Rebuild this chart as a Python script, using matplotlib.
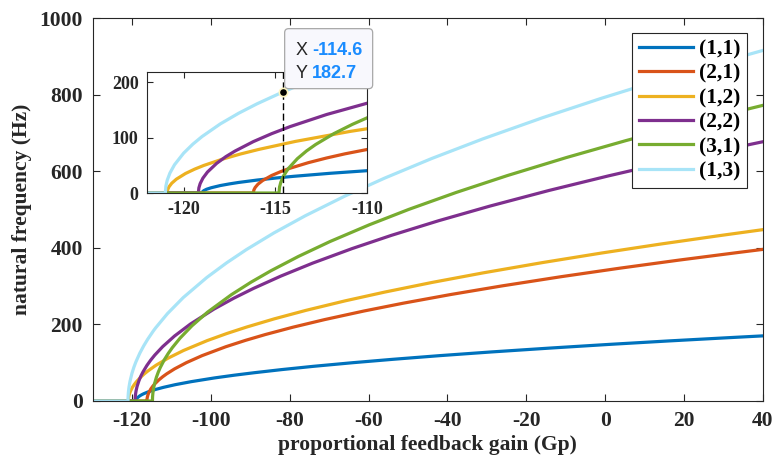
import matplotlib
matplotlib.use("Agg")
import matplotlib.pyplot as plt
from matplotlib.patches import FancyBboxPatch
from matplotlib.transforms import IdentityTransform

# ---- data: natural frequency (Hz) vs proportional feedback gain Gp ----
labels = ["(1,1)", "(2,1)", "(1,2)", "(2,2)", "(3,1)", "(1,3)"]
colors = ["#0072BD", "#D95319", "#EDB120", "#7E2F8E", "#77AC30", "#A8E4F7"]

gp_11 = [-130, -119.0, -118.97, -118.9, -118.75, -118.5, -118.0, -117.5, -117.0, -116.0, -115.0,
         -114.0, -112.0, -109.0, -105.0, -99.0, -94.0, -89.0, -82.0, -74.0, -64.0, -54.0,
         -42.0, -29.0, -14.0, 1.0, 16.0, 31.0, 40]
f_11 = [0, 0, 2.3, 4.3, 6.8, 9.5, 13.5, 16.5, 19.1, 23.4, 27.0,
        30.2, 35.7, 42.7, 50.5, 60.4, 67.5, 73.9, 82.1, 90.6, 100.1, 108.8,
        118.5, 128.1, 138.3, 147.9, 156.9, 165.3, 170.2]

gp_21 = [-130, -116.2, -116.17, -116.1, -115.95, -115.7, -115.2, -114.7, -114.2, -113.2, -112.2,
         -111.2, -109.2, -106.2, -102.2, -96.2, -91.2, -86.2, -79.2, -71.2, -61.2, -51.2,
         -39.2, -26.2, -11.2, 3.8, 18.8, 33.8, 40]
f_21 = [0, 0, 5.5, 10.0, 15.9, 22.4, 31.7, 38.8, 44.8, 54.9, 63.4,
        70.9, 83.9, 100.2, 118.6, 141.8, 158.5, 173.6, 192.8, 212.6, 235.1, 255.6,
        278.2, 300.7, 324.8, 347.2, 368.3, 388.2, 396.2]

gp_12 = [-130, -120.9, -120.87, -120.8, -120.65, -120.4, -119.9, -119.4, -118.9, -117.9, -116.9,
         -115.9, -113.9, -110.9, -106.9, -100.9, -95.9, -90.9, -83.9, -75.9, -65.9, -55.9,
         -43.9, -30.9, -15.9, -0.9, 14.1, 29.1, 40]
f_12 = [0, 0, 6.1, 11.2, 17.7, 25.0, 35.3, 43.2, 49.9, 61.1, 70.6,
        78.9, 93.4, 111.6, 132.1, 157.9, 176.5, 193.3, 214.7, 236.8, 261.8, 284.6,
        309.8, 334.9, 361.7, 386.7, 410.2, 432.3, 447.8]

gp_22 = [-130, -119.2, -119.17, -119.1, -118.95, -118.7, -118.2, -117.7, -117.2, -116.2, -115.2,
         -114.2, -112.2, -109.2, -105.2, -99.2, -94.2, -89.2, -82.2, -74.2, -64.2, -54.2,
         -42.2, -29.2, -14.2, 0.8, 15.8, 30.8, 40]
f_22 = [0, 0, 9.3, 17.0, 26.9, 38.0, 53.7, 65.8, 75.9, 93.0, 107.4,
        120.1, 142.1, 169.8, 200.9, 240.2, 268.5, 294.1, 326.6, 360.2, 398.2, 432.9,
        471.2, 509.4, 550.3, 588.2, 623.9, 657.7, 677.5]

gp_31 = [-130, -114.8, -114.77, -114.7, -114.55, -114.3, -113.8, -113.3, -112.8, -111.8, -110.8,
         -109.8, -107.8, -104.8, -100.8, -94.8, -89.8, -84.8, -77.8, -69.8, -59.8, -49.8,
         -37.8, -24.8, -9.8, 5.2, 20.2, 35.2, 40]
f_31 = [0, 0, 10.8, 19.6, 31.1, 43.9, 62.1, 76.1, 87.8, 107.6, 124.2,
        138.9, 164.3, 196.4, 232.4, 277.7, 310.5, 340.1, 377.7, 416.6, 460.5, 500.7,
        544.9, 589.1, 636.3, 680.3, 721.5, 760.5, 772.6]

gp_13 = [-130, -121.0, -120.97, -120.9, -120.75, -120.5, -120.0, -119.5, -119.0, -118.0, -117.0,
         -116.0, -114.6, -114.0, -111.0, -107.0, -101.0, -96.0, -91.0, -84.0, -76.0, -66.0,
         -56.0, -44.0, -31.0, -16.0, -1.0, 14.0, 29.0, 40]
f_13 = [0, 0, 12.5, 22.8, 36.1, 51.1, 72.2, 88.4, 102.1, 125.1, 144.4,
        161.4, 182.7, 191.0, 228.3, 270.2, 322.9, 361.0, 395.5, 439.2, 484.3, 535.5,
        582.1, 633.6, 685.0, 739.8, 790.9, 838.9, 884.3, 916.1]

gp_series = [gp_11, gp_21, gp_12, gp_22, gp_31, gp_13]
f_series = [f_11, f_21, f_12, f_22, f_31, f_13]

main_xticks = [-120, -100, -80, -60, -40, -20, 0, 20, 40]
main_yticks = [0, 200, 400, 600, 800, 1000]
inset_xticks = [-120, -115, -110]
inset_yticks = [0, 100, 200]

tip_x = -114.6
tip_y = 182.7

# ---- styling ----
serif = ["Liberation Serif", "DejaVu Serif"]
plt.rcParams["font.family"] = serif
plt.rcParams["font.weight"] = "bold"
plt.rcParams["axes.unicode_minus"] = False
axis_color = "#262626"

W, H = 773, 462
fig = plt.figure(figsize=(W / 100, H / 100), dpi=100)

ax = fig.add_axes([92.5 / W, (H - 401) / H, 670.5 / W, 382.7 / H])
for gp, f, c, lab in zip(gp_series, f_series, colors, labels):
    ax.plot(gp, f, color=c, lw=2.3, label=lab, solid_joinstyle="round")

ax.set_xlim(-130, 40)
ax.set_ylim(0, 1000)
ax.set_xticks(main_xticks)
ax.set_yticks(main_yticks)
ax.tick_params(direction="in", length=5, width=0.8, colors=axis_color,
               top=True, right=True, labelsize=15.5)
ax.tick_params(axis="x", pad=7)
ax.tick_params(axis="y", pad=7)
for lbl in ax.get_xticklabels() + ax.get_yticklabels():
    lbl.set_fontweight("bold")
for sp in ax.spines.values():
    sp.set_color(axis_color)
    sp.set_linewidth(0.8)
ax.set_xlabel("proportional feedback gain (Gp)", fontsize=15.5, fontweight="bold",
              color=axis_color, labelpad=3)
ax.set_ylabel("natural frequency (Hz)", fontsize=15.5, fontweight="bold",
              color=axis_color, labelpad=5)

leg = ax.legend(loc="upper right", bbox_to_anchor=((747 - 92.5) / 670.5, (401 - 33) / 382.7),
                borderaxespad=0, fontsize=15.5, handlelength=2.5, handletextpad=0.3,
                labelspacing=0.2, borderpad=0.3, fancybox=False, framealpha=1,
                edgecolor=axis_color)
leg.get_frame().set_linewidth(0.8)
for t in leg.get_texts():
    t.set_fontweight("bold")

# ---- zoomed inset around the onset region ----
ins = fig.add_axes([147 / W, (H - 193) / H, 220 / W, 121 / H])
for gp, f, c in zip(gp_series, f_series, colors):
    ins.plot(gp, f, color=c, lw=2.3, solid_joinstyle="round")
ins.set_xlim(-122, -110)
ins.set_ylim(0, 219)
ins.set_xticks(inset_xticks)
ins.set_yticks(inset_yticks)
ins.tick_params(direction="in", length=4, width=0.8, colors=axis_color,
                top=True, right=True, labelsize=13)
ins.tick_params(axis="x", pad=6)
ins.tick_params(axis="y", pad=6)
for lbl in ins.get_xticklabels() + ins.get_yticklabels():
    lbl.set_fontweight("bold")
for sp in ins.spines.values():
    sp.set_color(axis_color)
    sp.set_linewidth(0.8)

ins.axvline(tip_x, color="black", lw=1.0, dashes=(5, 2.5), zorder=5)
ins.plot([tip_x], [tip_y], "o", ms=6, mfc="black", mec="#FFF6C0", mew=1.2,
         zorder=10, clip_on=False)

# ---- data tip box, placed in pixel offsets from the marked point ----
fig.canvas.draw()
px, py = ins.transData.transform((tip_x, tip_y))
box = FancyBboxPatch((px + 2, py + 3.4), 88, 60,
                     boxstyle="round,pad=0,rounding_size=4",
                     transform=IdentityTransform(), facecolor="#F8F8FD",
                     edgecolor="#A8A8A8", lw=0.9, zorder=20)
fig.patches.append(box)
box.set_figure(fig)

sans = ["Liberation Sans", "DejaVu Sans"]
tip_fs = 13
fig.text((px + 12.5) / W, (py + 37.4) / H, "X", family=sans, fontsize=tip_fs,
         fontweight="normal", color=axis_color, zorder=21)
fig.text((px + 29.4) / W, (py + 37.4) / H, f"{tip_x:.1f}", family=sans, fontsize=tip_fs,
         fontweight="bold", color="#1A8CFF", zorder=21)
fig.text((px + 12.5) / W, (py + 14.4) / H, "Y", family=sans, fontsize=tip_fs,
         fontweight="normal", color=axis_color, zorder=21)
fig.text((px + 29.4) / W, (py + 14.4) / H, f"{tip_y:.1f}", family=sans, fontsize=tip_fs,
         fontweight="bold", color="#1A8CFF", zorder=21)

fig.savefig("out.png", dpi=100)
